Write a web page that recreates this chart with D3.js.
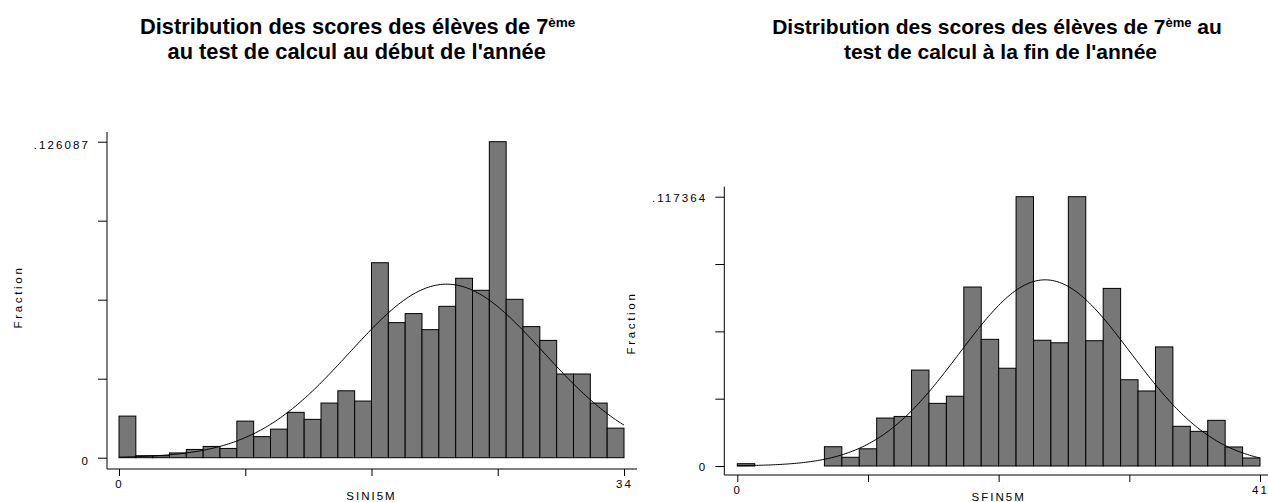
<!DOCTYPE html>
<html>
<head>
<meta charset="utf-8">
<script src="https://cdn.jsdelivr.net/npm/d3@7/dist/d3.min.js"></script>
<style>
  html, body { margin: 0; padding: 0; background: #fff; }
  svg { display: block; }
  text { font-family: "Liberation Sans", Arial, Helvetica, sans-serif; fill: #000; }
</style>
</head>
<body>
<svg id="chart" width="1268" height="502"></svg>
<script>
// ---- Data ----
// Left panel: start-of-year scores (SINI5M), 30 bins over [0, 34], fraction per bin
const startRange = [0, 34];
const startFractions = [
  0.0166, 0.0008, 0.0008, 0.0019, 0.0033, 0.0045, 0.0037, 0.0146, 0.0084, 0.0114,
  0.0181, 0.0153, 0.0218, 0.0267, 0.0226, 0.0778, 0.0539, 0.0575, 0.0511, 0.0604,
  0.0716, 0.0668, 0.126087, 0.0632, 0.0523, 0.0468, 0.0334, 0.0334, 0.0218, 0.0118
];
const startYMax = 0.126087;
const startNormal = { mean: 22.06, sd: 6.53 };

// Right panel: end-of-year scores (SFIN5M), 30 bins over [0, 41], fraction per bin
const endRange = [0, 41];
const endFractions = [
  0.0010, 0, 0, 0, 0, 0.0084, 0.0038, 0.0075, 0.0209, 0.0216,
  0.0418, 0.0273, 0.0304, 0.0780, 0.0552, 0.0426, 0.117364, 0.0548, 0.0537, 0.117364,
  0.0546, 0.0774, 0.0376, 0.0327, 0.0519, 0.0173, 0.0151, 0.0199, 0.0083, 0.0035
];
const endYMax = 0.117364;
const endNormal = { mean: 24.15, sd: 6.72 };

const startYTickLabels = [".126087", "0"];
const endYTickLabels = [".117364", "0"];
const startXTickLabels = ["0", "34"];
const endXTickLabels = ["0", "41"];
const yAxisTitle = "Fraction";
const startXTitle = "SINI5M";
const endXTitle = "SFIN5M";
const startTitle = ["Distribution des scores des élèves de 7", "ème", "", "au test de calcul au début de l'année"];
const endTitle = ["Distribution des scores des élèves de 7", "ème", " au", "test de calcul à la fin de l'année"];

// ---- Drawing ----
const svg = d3.select("#chart");
svg.append("rect").attr("width", 1268).attr("height", 502).attr("fill", "#fff");

function panel(cfg) {
  const g = svg.append("g");
  const x = d3.scaleLinear().domain(cfg.range).range(cfg.xRange);
  const y = d3.scaleLinear().domain([0, cfg.yMax]).range(cfg.yRange);
  const nb = cfg.fractions.length;
  const bw = (cfg.range[1] - cfg.range[0]) / nb;

  // bars
  g.append("g").selectAll("rect")
    .data(cfg.fractions.map((v, i) => ({ v, i })).filter(d => d.v > 0))
    .join("rect")
    .attr("x", d => x(cfg.range[0] + d.i * bw))
    .attr("width", d => x(cfg.range[0] + (d.i + 1) * bw) - x(cfg.range[0] + d.i * bw))
    .attr("y", d => y(d.v))
    .attr("height", d => y(0) - y(d.v))
    .attr("fill", "#777777")
    .attr("stroke", "#000")
    .attr("stroke-width", 1);

  // normal density overlay, scaled to bin width (fraction units)
  const dens = xv => bw * Math.exp(-0.5 * Math.pow((xv - cfg.normal.mean) / cfg.normal.sd, 2)) / (cfg.normal.sd * Math.sqrt(2 * Math.PI));
  const xs = d3.range(cfg.range[0], cfg.range[1] + 1e-9, (cfg.range[1] - cfg.range[0]) / 300);
  g.append("path")
    .datum(xs)
    .attr("d", d3.line().x(d => x(d)).y(d => y(dens(d))))
    .attr("fill", "none")
    .attr("stroke", "#000")
    .attr("stroke-width", 1);

  // y axis
  const yTicks = [0, cfg.yMax / 4, cfg.yMax / 2, 3 * cfg.yMax / 4, cfg.yMax];
  const yAxis = g.append("g")
    .attr("transform", `translate(${cfg.axisX},0)`)
    .call(d3.axisLeft(y).tickValues(yTicks).tickSize(9).tickPadding(8)
      .tickFormat(d => d === 0 ? cfg.yLabels[1] : (d === cfg.yMax ? cfg.yLabels[0] : "")));
  yAxis.select(".domain").remove();
  yAxis.selectAll("line").attr("stroke", "#000");
  yAxis.selectAll("text")
    .attr("font-size", 11.5).attr("letter-spacing", "2.1px")
    .attr("font-family", "Liberation Sans, Arial, sans-serif")
    .attr("dy", cfg.yLabelDy);

  // x axis
  const xAxis = g.append("g")
    .attr("transform", `translate(0,${cfg.axisY})`)
    .call(d3.axisBottom(x).tickValues(d3.range(5).map(k => cfg.range[0] + k * (cfg.range[1] - cfg.range[0]) / 4))
      .tickSize(7).tickPadding(4)
      .tickFormat(d => d === cfg.range[0] ? cfg.xLabels[0] : (d === cfg.range[1] ? cfg.xLabels[1] : "")));
  xAxis.select(".domain").remove();
  xAxis.selectAll("line").attr("stroke", "#000");
  xAxis.selectAll("text")
    .attr("font-size", 11.5).attr("letter-spacing", "2px")
    .attr("font-family", "Liberation Sans, Arial, sans-serif");

  // axis lines
  g.append("line").attr("x1", cfg.axisX).attr("x2", cfg.axisX)
    .attr("y1", cfg.yAxisTop).attr("y2", cfg.axisY).attr("stroke", "#000").attr("stroke-width", 1);
  g.append("line").attr("x1", cfg.axisX).attr("x2", cfg.xAxisEnd)
    .attr("y1", cfg.axisY).attr("y2", cfg.axisY).attr("stroke", "#000").attr("stroke-width", 1);

  // axis titles
  g.append("text")
    .attr("transform", `translate(${cfg.yTitlePos[0]},${cfg.yTitlePos[1]}) rotate(-90)`)
    .attr("text-anchor", "middle").attr("dy", "0.35em")
    .attr("font-size", 11.5).attr("letter-spacing", "2.7px")
    .text(yAxisTitle);
  g.append("text")
    .attr("x", (cfg.xRange[0] + cfg.xRange[1]) / 2).attr("y", cfg.axisY + cfg.xTitleOffset)
    .attr("text-anchor", "middle")
    .attr("font-size", 11.5).attr("letter-spacing", "2px")
    .text(cfg.xTitle);

  // chart title
  const t1 = g.append("text").attr("x", cfg.titleX[0]).attr("y", 34)
    .attr("text-anchor", "middle").attr("font-weight", "bold").attr("font-size", cfg.titleSize);
  t1.append("tspan").text(cfg.title[0]);
  t1.append("tspan").attr("font-size", cfg.titleSize * 0.62).attr("dy", -7).text(cfg.title[1]);
  if (cfg.title[2]) t1.append("tspan").attr("dy", 7).text(cfg.title[2]);
  g.append("text").attr("x", cfg.titleX[1]).attr("y", 58.5)
    .attr("text-anchor", "middle").attr("font-weight", "bold").attr("font-size", cfg.titleSize)
    .text(cfg.title[3]);
}

panel({
  range: startRange, fractions: startFractions, yMax: startYMax, normal: startNormal,
  xRange: [119, 624], yRange: [457.7, 141.7], axisX: 107, axisY: 469, yAxisTop: 132, xAxisEnd: 637,
  yLabels: startYTickLabels, xLabels: startXTickLabels, yLabelDy: "0.6em",
  yTitlePos: [18, 297], xTitle: startXTitle, xTitleOffset: 31,
  title: startTitle, titleX: [357.7, 356.7], titleSize: 21.8
});
panel({
  range: endRange, fractions: endFractions, yMax: endYMax, normal: endNormal,
  xRange: [737.3, 1260], yRange: [466, 196.7], axisX: 724.3, axisY: 475, yAxisTop: 186.7, xAxisEnd: 1268,
  yLabels: endYTickLabels, xLabels: endXTickLabels, yLabelDy: "0.42em",
  yTitlePos: [631, 323], xTitle: endXTitle, xTitleOffset: 25.5,
  title: endTitle, titleX: [997, 1000.5], titleSize: 21
});
</script>
</body>
</html>
